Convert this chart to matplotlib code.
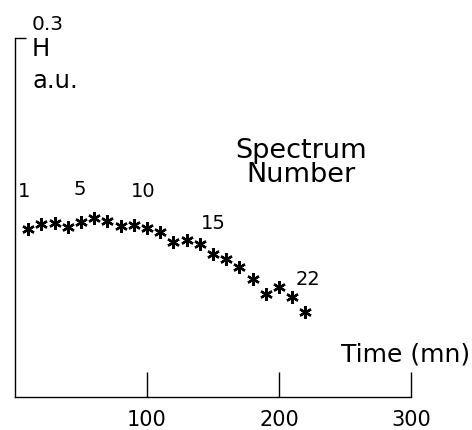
import matplotlib
matplotlib.use("Agg")
import matplotlib.pyplot as plt

# spectra taken every 10 minutes
time_mn = [10, 20, 30, 40, 50, 60, 70, 80, 90, 100, 110,
           120, 130, 140, 150, 160, 170, 180, 190, 200, 210, 220]
h_au = [0.140, 0.1445, 0.145, 0.142, 0.146, 0.1495, 0.147, 0.143, 0.1437, 0.141, 0.138,
        0.1295, 0.131, 0.128, 0.1195, 0.115, 0.1086, 0.0986, 0.086, 0.092, 0.0835, 0.071]
spectrum_labels = [1, 5, 10, 15, 22]
x_ticks = [100, 200, 300]
y_top = 0.3

# offsets (points) of the spectrum number labels from their markers
label_offsets = {1: (-3, 28), 5: (-1, 24), 10: (-3, 27), 15: (0, 23), 22: (2, 24)}

fig = plt.figure(figsize=(4.72, 4.31), dpi=100)
ax = fig.add_axes([15 / 472, 33 / 431, 396 / 472, 359 / 431])

ax.plot(time_mn, h_au, linestyle="none", marker=(6, 2, 0), markersize=9,
        markeredgewidth=1.7, color="black")

for n in spectrum_labels:
    dx, dy = label_offsets[n]
    ax.annotate(str(n), (time_mn[n - 1], h_au[n - 1]), xytext=(dx, dy),
                textcoords="offset points", ha="center", va="center", fontsize=14)

ax.set_xlim(0, 300)
ax.set_ylim(0, y_top)
ax.spines["top"].set_visible(False)
ax.spines["right"].set_visible(False)
for s in ("left", "bottom"):
    ax.spines[s].set_linewidth(1.0)

ax.set_xticks(x_ticks)
ax.set_xticklabels([str(t) for t in x_ticks], fontsize=15)
ax.tick_params(axis="x", direction="in", length=18, width=1.0, pad=9)
ax.set_yticks([y_top])
ax.set_yticklabels([])
ax.tick_params(axis="y", direction="in", length=8, width=1.0)

ax.text(48 / 472, 407 / 431, "0.3", transform=fig.transFigure, fontsize=14.5,
        ha="center", va="center")
ax.text(32 / 472, 382 / 431, "H", transform=fig.transFigure, fontsize=17.5,
        ha="left", va="center")
ax.text(32 / 472, 350 / 431, "a.u.", transform=fig.transFigure, fontsize=17.5,
        ha="left", va="center")
ax.text(301 / 472, 268 / 431, "Spectrum\nNumber", transform=fig.transFigure,
        fontsize=19.5, ha="center", va="center", linespacing=0.9)
ax.text(470 / 472, 76 / 431, "Time (mn)", transform=fig.transFigure, fontsize=18,
        ha="right", va="center")

fig.savefig("out.png", dpi=100)
